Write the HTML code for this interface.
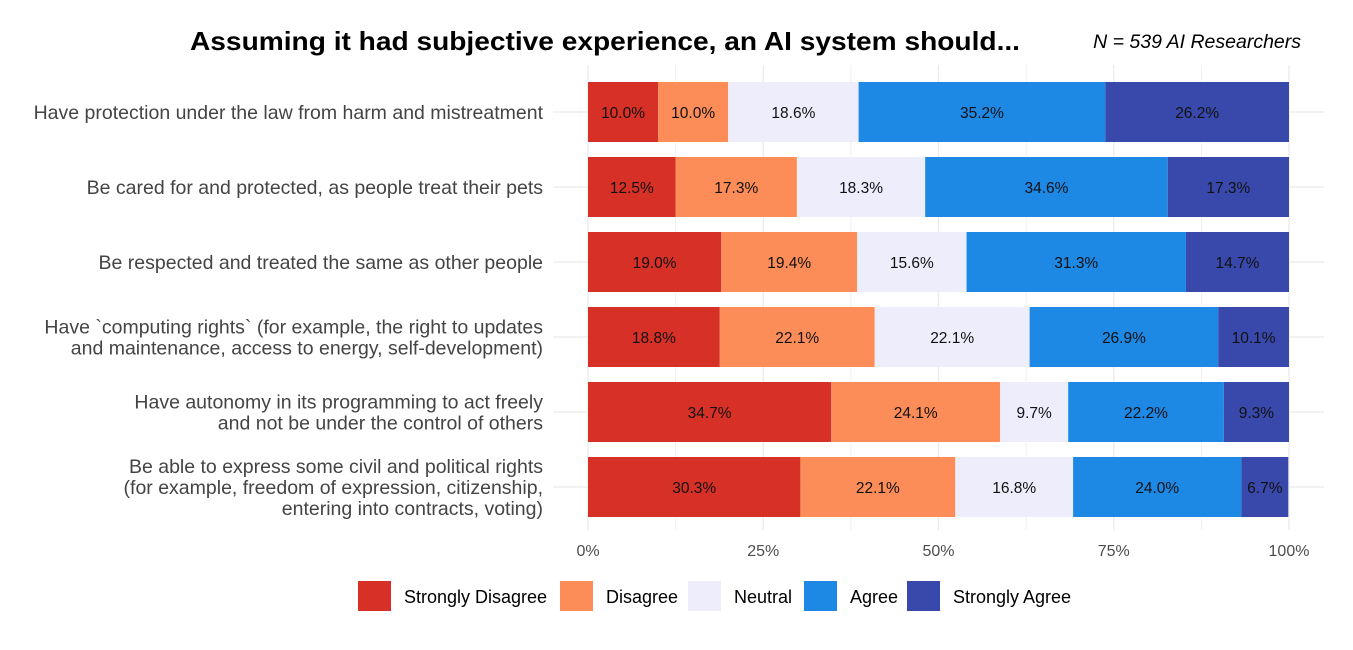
<!DOCTYPE html>
<html><head><meta charset="utf-8"><style>
body{margin:0;background:#fff;font-family:"Liberation Sans",sans-serif}
svg text{font-family:"Liberation Sans",sans-serif}
</style></head><body>
<svg width="1353" height="645" xmlns="http://www.w3.org/2000/svg" id="chart">
<text x="190" y="50" textLength="830" lengthAdjust="spacingAndGlyphs" font-size="26" font-weight="bold" fill="#000">Assuming it had subjective experience, an AI system should...</text>
<text x="1301" y="48" text-anchor="end" font-size="19.5" font-style="italic" fill="#000">N = 539 AI Researchers</text>
<g id="grid"></g><g id="bars"></g><g id="labels"></g><g id="ticks"></g><g id="legend"></g>
</svg>
<script>
const categories=[
["Have protection under the law from harm and mistreatment"],
["Be cared for and protected, as people treat their pets"],
["Be respected and treated the same as other people"],
["Have `computing rights` (for example, the right to updates","and maintenance, access to energy, self-development)"],
["Have autonomy in its programming to act freely","and not be under the control of others"],
["Be able to express some civil and political rights","(for example, freedom of expression, citizenship,","entering into contracts, voting)"]];
const stronglyDisagree=[10.0,12.5,19.0,18.8,34.7,30.3];
const disagree=[10.0,17.3,19.4,22.1,24.1,22.1];
const neutral=[18.6,18.3,15.6,22.1,9.7,16.8];
const agree=[35.2,34.6,31.3,26.9,22.2,24.0];
const stronglyAgree=[26.2,17.3,14.7,10.1,9.3,6.7];
const tickLabels=["0%","25%","50%","75%","100%"];
const legendNames=["Strongly Disagree","Disagree","Neutral","Agree","Strongly Agree"];
const colors=["#d73027","#fc8d59","#ededfc","#1e88e5","#3949ab"];
const series=[stronglyDisagree,disagree,neutral,agree,stronglyAgree];
const NS="http://www.w3.org/2000/svg";
const x=v=>588+v/100*701;
const yc=i=>112+i*75;
function mk(t,a,p){const e=document.createElementNS(NS,t);for(const k in a)e.setAttribute(k,a[k]);p.appendChild(e);return e;}
const grid=document.getElementById('grid');
for(let v=0;v<=100;v+=12.5){
 const g=mk('line',{x1:x(v),x2:x(v),y1:65,y2:530,stroke:'#ebebeb','stroke-width':v%25===0?1.3:0.7},grid);
 
 
}
categories.forEach((c,i)=>{
 const g=mk('line',{x1:553,x2:1324,y1:yc(i),y2:yc(i),stroke:'#ebebeb','stroke-width':1.3},grid);
 
 
});
const bars=document.getElementById('bars');
categories.forEach((c,i)=>{
 let cum=0;
 series.forEach((s,j)=>{
  const v=s[i];
  const r=mk('rect',{x:x(cum),y:yc(i)-30,width:x(cum+v)-x(cum),height:60,fill:colors[j]},bars);
  
  
  const t=mk('text',{x:(x(cum)+x(cum+v))/2,y:yc(i)+6,'text-anchor':'middle','font-size':15.5,fill:'#111'},bars);
  t.textContent=v.toFixed(1)+'%';
  
  
  cum+=v;
 });
});
const labels=document.getElementById('labels');
categories.forEach((lines,i)=>{
 const t=mk('text',{x:543,'text-anchor':'end','font-size':19.5,fill:'#444'},labels);
 
 
 const n=lines.length;
 lines.forEach((l,k)=>{
  const ts=mk('tspan',{x:543,y:yc(i)+7+(k-(n-1)/2)*21},t);
  ts.textContent=l;
 });
});
const ticks=document.getElementById('ticks');
tickLabels.forEach((l,k)=>{
 const t=mk('text',{x:x(k*25),y:556,'text-anchor':'middle','font-size':16,fill:'#4d4d4d'},ticks);
 t.textContent=l;
 
 
});
const legend=document.getElementById('legend');
const lx=[358,560,688,804,907];
legendNames.forEach((n,k)=>{
 const r=mk('rect',{x:lx[k],y:581,width:33,height:30,fill:colors[k]},legend);
 
 
 const t=mk('text',{x:lx[k]+46,y:603,'font-size':18,fill:'#000'},legend);
 t.textContent=n;
 
 
});
</script>
</body></html>
